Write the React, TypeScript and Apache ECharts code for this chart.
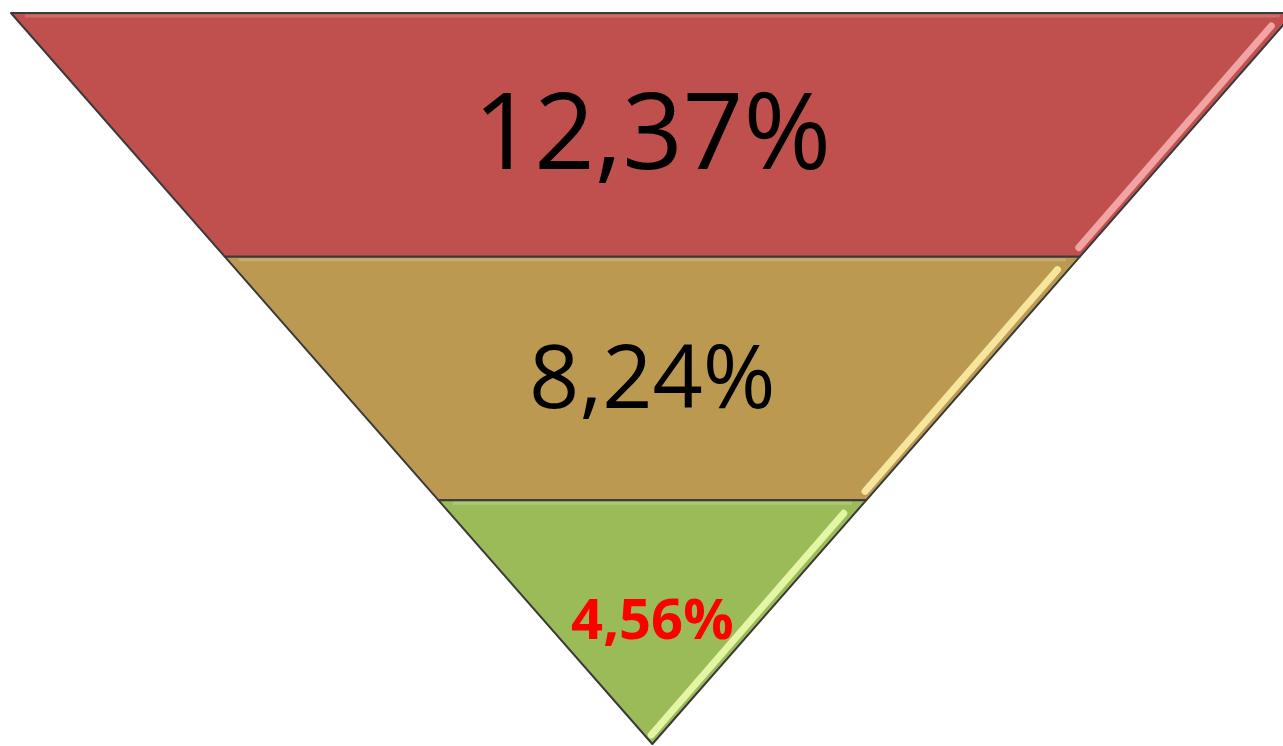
import React, { useEffect, useRef } from "react";
import * as echarts from "echarts";

// Funnel stages, top to bottom
const stages = ["Stage 1", "Stage 2", "Stage 3"];
const rates = [12.37, 8.24, 4.56];
// Level (half-width units) at the top and bottom of each band: straight-sided triangle
const levelTop = [3, 2, 1];
const levelBottom = [2, 1, 0];
const fillColors = ["#C0504D", "#BC9951", "#9BBB59"];
const bevelColors = ["#F2A3A3", "#F6E59C", "#E4F5A6"];
const labelColors = ["#000000", "#000000", "#FF0000"];
const labelSizes = [106, 88, 56];
const labelWeights = ["normal", "normal", "bold"];
const labelShift = [-7, -5, -5];

const fmt = (v: number) => v.toFixed(2).replace(".", ",") + "%";

export default function App() {
  const ref = useRef<HTMLDivElement>(null);
  useEffect(() => {
    document.body.style.margin = "0";
    const chart = echarts.init(ref.current!, null, { renderer: "svg" });
    const data = stages.map((s, i) => [rates[i], levelTop[i], levelBottom[i], i]);
    chart.setOption({
      animation: false,
      grid: { left: 11, top: 13, right: 0, bottom: 2 },
      // the triangle's right corner is cut off by the page edge
      xAxis: { type: "value", min: -3, max: 2.95, show: false },
      yAxis: { type: "value", min: 0, max: 3, show: false },
      series: [
        {
          type: "custom",
          clip: false,
          data,
          renderItem: (params: any, api: any) => {
            const rate = api.value(0);
            const t = api.value(1);
            const b = api.value(2);
            const i = api.value(3);
            const tl = api.coord([-t, t]);
            const tr = api.coord([t, t]);
            const br = api.coord([b, b]);
            const bl = api.coord([-b, b]);
            const mid = api.coord([0, (t + b) / 2]);
            const edgeAt = (y: number) => {
              const f = (y - tr[1]) / (br[1] - tr[1]);
              return tr[0] + (br[0] - tr[0]) * f;
            };
            const y1 = tr[1] + 13;
            const y2 = br[1] - 9;
            const x1 = edgeAt(y1) - 11;
            const x2 = edgeAt(y2) - 9;
            return {
              type: "group",
              children: [
                {
                  type: "polygon",
                  shape: { points: [tl, tr, br, bl] },
                  style: { fill: fillColors[i], stroke: "#3a3a3a", lineWidth: 2, lineJoin: "round" },
                },
                {
                  type: "line",
                  shape: { x1: tl[0] + 14, y1: tl[1] + 3, x2: tr[0] - 14, y2: tr[1] + 3 },
                  style: { stroke: "rgba(255,255,255,0.18)", lineWidth: 3 },
                },
                {
                  type: "line",
                  shape: { x1, y1, x2, y2 },
                  style: { stroke: bevelColors[i], lineWidth: 7, lineCap: "round" },
                },
                {
                  type: "text",
                  x: mid[0],
                  y: mid[1] + labelShift[i],
                  style: {
                    text: fmt(rate),
                    fill: labelColors[i],
                    fontSize: labelSizes[i],
                    fontWeight: labelWeights[i],
                    fontFamily: "Open Sans",
                    align: "center",
                    verticalAlign: "middle",
                  },
                },
              ],
            };
          },
        },
      ],
    });
    return () => chart.dispose();
  }, []);
  return <div ref={ref} style={{ width: 1283, height: 746 }} />;
}
